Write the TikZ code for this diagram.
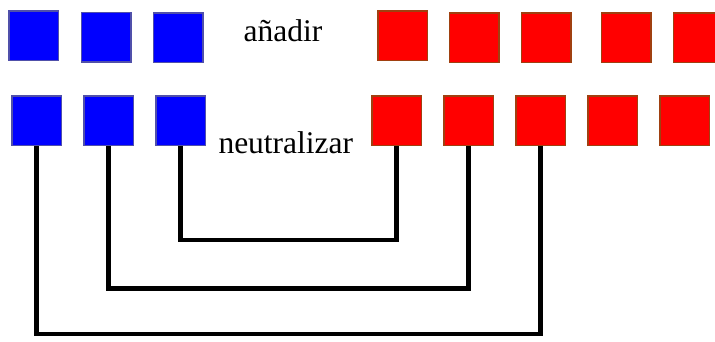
\documentclass[tikz,border=0pt]{standalone}
\usepackage{fontspec}
\setmainfont{Liberation Serif}
\definecolor{bluefill}{RGB}{0,0,255}
\definecolor{blueedge}{RGB}{80,80,170}
\definecolor{redfill}{RGB}{255,0,0}
\definecolor{rededge}{RGB}{160,64,16}
\begin{document}
\begin{tikzpicture}[x=1pt,y=-1pt,
  cell/.style={minimum size=49.5pt,inner sep=0pt,line width=1.5pt},
  bluecell/.style={cell,fill=bluefill,draw=blueedge},
  redcell/.style={cell,fill=redfill,draw=rededge},
  link/.style={line width=4.5pt,line join=miter},
  word/.style={font=\fontsize{31.5}{38}\selectfont,inner sep=0pt,anchor=base west}]
\useasboundingbox (0,0) rectangle (715,341);
% upper row
\node[bluecell] (ta1) at (33.5,35.5) {};
\node[bluecell] (ta2) at (106,37.3) {};
\node[bluecell] (ta3) at (178,37.5) {};
\node[word] (add) at (243.5,41.7) {añadir};
\node[redcell] (tr1) at (402.5,35.5) {};
\node[redcell] (tr2) at (474.3,37.5) {};
\node[redcell] (tr3) at (546.3,37.5) {};
\node[redcell] (tr4) at (626.3,37.5) {};
\node[redcell] (tr5) at (698.3,37.5) {};
% lower row
\node[bluecell] (ba1) at (36.5,120.5) {};
\node[bluecell] (ba2) at (108.5,120.5) {};
\node[bluecell] (ba3) at (180.5,120.5) {};
\node[word] (neu) at (218.3,153.3) {neutralizar};
\node[redcell] (br1) at (396.7,120.5) {};
\node[redcell] (br2) at (468.7,120.5) {};
\node[redcell] (br3) at (540.7,120.5) {};
\node[redcell] (br4) at (612.7,120.5) {};
\node[redcell] (br5) at (684.7,120.5) {};
% pairings
\coordinate (l1) at (0,240);
\coordinate (l2) at (0,288.5);
\coordinate (l3) at (0,334);
\draw[link] (ba3.south) -- (ba3.south |- l1) -| (br1.south);
\draw[link] (ba2.south) -- (ba2.south |- l2) -| (br2.south);
\draw[link] (ba1.south) -- (ba1.south |- l3) -| (br3.south);
\end{tikzpicture}
\end{document}
